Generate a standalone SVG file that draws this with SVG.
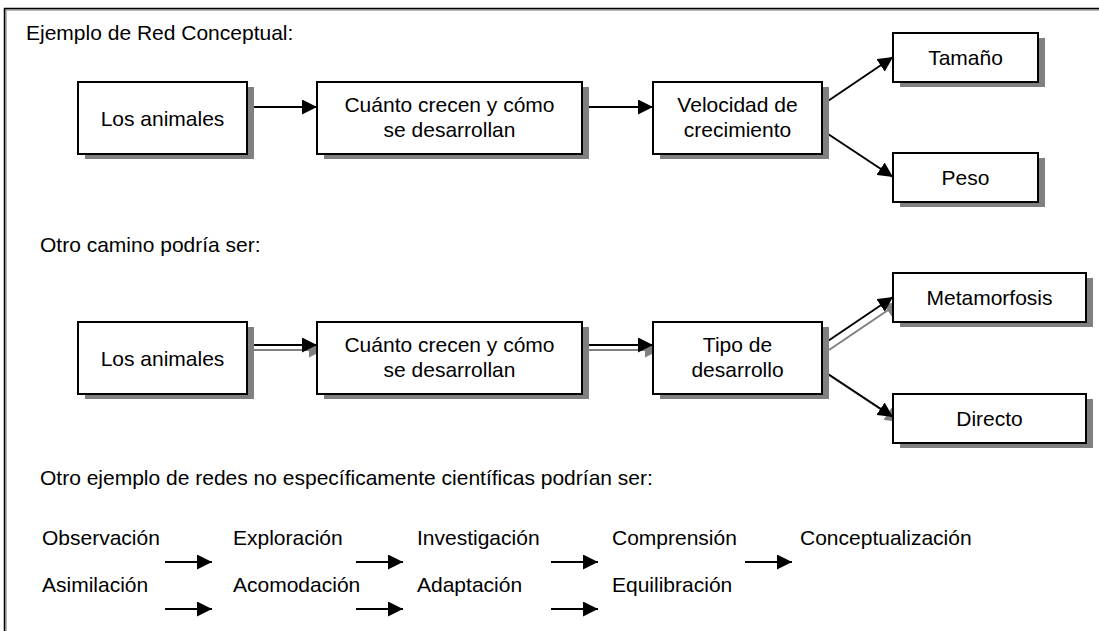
<svg xmlns="http://www.w3.org/2000/svg" width="1099" height="631" viewBox="0 0 1099 631">
<style>
text{font-family:"Liberation Sans",Arial,sans-serif;font-size:21px;fill:#000}
.c{text-anchor:middle}
.box{fill:#fff;stroke:#000;stroke-width:2}
.sh{fill:#808080}
.ln{stroke:#000;stroke-width:2;fill:none}
.lg{stroke:#808080;stroke-width:2;fill:none}
</style>
<defs>
<marker id="ab" markerUnits="userSpaceOnUse" markerWidth="16" markerHeight="15" refX="15" refY="7.5" orient="auto"><path d="M0,0 L15,7.5 L0,15 z" fill="#000"/></marker>
<marker id="ag" markerUnits="userSpaceOnUse" markerWidth="16" markerHeight="15" refX="15" refY="7.5" orient="auto"><path d="M0,0 L15,7.5 L0,15 z" fill="#808080"/></marker>
</defs>
<rect width="1099" height="631" fill="#fff"/>
<g id="frame">
<line x1="4" y1="10" x2="1099" y2="10" stroke="#a0a0a0" stroke-width="1.5"/>
<line x1="6" y1="8" x2="6" y2="631" stroke="#a0a0a0" stroke-width="1.5"/>
<line x1="4" y1="8.5" x2="1099" y2="8.5" stroke="#000" stroke-width="1.5"/>
<line x1="4.5" y1="8" x2="4.5" y2="631" stroke="#000" stroke-width="1.5"/>
</g>
<text x="26" y="40">Ejemplo de Red Conceptual:</text>
<text x="40" y="252">Otro camino podría ser:</text>
<text x="40" y="485">Otro ejemplo de redes no específicamente científicas podrían ser:</text>

<g id="connectors">
<line class="ln" x1="247" y1="107" x2="317" y2="107" marker-end="url(#ab)"/>
<line class="ln" x1="582" y1="107" x2="653" y2="107" marker-end="url(#ab)"/>
<line class="ln" x1="822" y1="105" x2="893" y2="57" marker-end="url(#ab)"/>
<line class="ln" x1="822" y1="130" x2="893" y2="177" marker-end="url(#ab)"/>
<g transform="translate(7,5)">
<line class="lg" x1="247" y1="345" x2="317" y2="345" marker-end="url(#ag)"/>
<line class="lg" x1="582" y1="345" x2="653" y2="345" marker-end="url(#ag)"/>
<line class="lg" x1="822" y1="345" x2="893" y2="297" marker-end="url(#ag)"/>
<line class="lg" x1="822" y1="370" x2="893" y2="417" marker-end="url(#ag)"/>
</g>
<line class="ln" x1="247" y1="345" x2="317" y2="345" marker-end="url(#ab)"/>
<line class="ln" x1="582" y1="345" x2="653" y2="345" marker-end="url(#ab)"/>
<line class="ln" x1="822" y1="345" x2="893" y2="297" marker-end="url(#ab)"/>
<line class="ln" x1="822" y1="370" x2="893" y2="417" marker-end="url(#ab)"/>
<line class="ln" x1="165" y1="562" x2="212" y2="562" marker-end="url(#ab)"/>
<line class="ln" x1="356" y1="562" x2="403" y2="562" marker-end="url(#ab)"/>
<line class="ln" x1="551" y1="562" x2="598" y2="562" marker-end="url(#ab)"/>
<line class="ln" x1="745" y1="562" x2="792" y2="562" marker-end="url(#ab)"/>
<line class="ln" x1="165" y1="609" x2="212" y2="609" marker-end="url(#ab)"/>
<line class="ln" x1="356" y1="609" x2="403" y2="609" marker-end="url(#ab)"/>
<line class="ln" x1="551" y1="609" x2="598" y2="609" marker-end="url(#ab)"/>
</g>

<g id="n1"><rect class="sh" x="85" y="87" width="169" height="72"/><rect class="box" x="78" y="82" width="169" height="72"/><text class="c" x="162.5" y="126">Los animales</text></g>
<g id="n2"><rect class="sh" x="324" y="87" width="265" height="72"/><rect class="box" x="317" y="82" width="265" height="72"/><text class="c" x="449.5" y="112">Cuánto crecen y cómo</text><text class="c" x="449.5" y="137">se desarrollan</text></g>
<g id="n3"><rect class="sh" x="660" y="87" width="169" height="72"/><rect class="box" x="653" y="82" width="169" height="72"/><text class="c" x="737.5" y="112">Velocidad de</text><text class="c" x="737.5" y="137">crecimiento</text></g>
<g id="n4"><rect class="sh" x="900" y="38" width="145" height="49"/><rect class="box" x="893" y="33" width="145" height="49"/><text class="c" x="965.5" y="65">Tamaño</text></g>
<g id="n5"><rect class="sh" x="900" y="158" width="145" height="49"/><rect class="box" x="893" y="153" width="145" height="49"/><text class="c" x="965.5" y="185">Peso</text></g>

<g id="m1"><rect class="sh" x="85" y="327" width="169" height="72"/><rect class="box" x="78" y="322" width="169" height="72"/><text class="c" x="162.5" y="366">Los animales</text></g>
<g id="m2"><rect class="sh" x="324" y="327" width="265" height="72"/><rect class="box" x="317" y="322" width="265" height="72"/><text class="c" x="449.5" y="352">Cuánto crecen y cómo</text><text class="c" x="449.5" y="377">se desarrollan</text></g>
<g id="m3"><rect class="sh" x="660" y="327" width="169" height="72"/><rect class="box" x="653" y="322" width="169" height="72"/><text class="c" x="737.5" y="352">Tipo de</text><text class="c" x="737.5" y="377">desarrollo</text></g>
<g id="m4"><rect class="sh" x="900" y="278" width="193" height="49"/><rect class="box" x="893" y="273" width="193" height="49"/><text class="c" x="989.5" y="305">Metamorfosis</text></g>
<g id="m5"><rect class="sh" x="900" y="399" width="193" height="49"/><rect class="box" x="893" y="394" width="193" height="49"/><text class="c" x="989.5" y="426">Directo</text></g>

<g id="seq">
<text x="42" y="545">Observación</text>
<text x="233" y="545">Exploración</text>
<text x="417" y="545">Investigación</text>
<text x="612" y="545">Comprensión</text>
<text x="800" y="545">Conceptualización</text>
<text x="42" y="592">Asimilación</text>
<text x="233" y="592">Acomodación</text>
<text x="417" y="592">Adaptación</text>
<text x="612" y="592">Equilibración</text>
</g>
</svg>
